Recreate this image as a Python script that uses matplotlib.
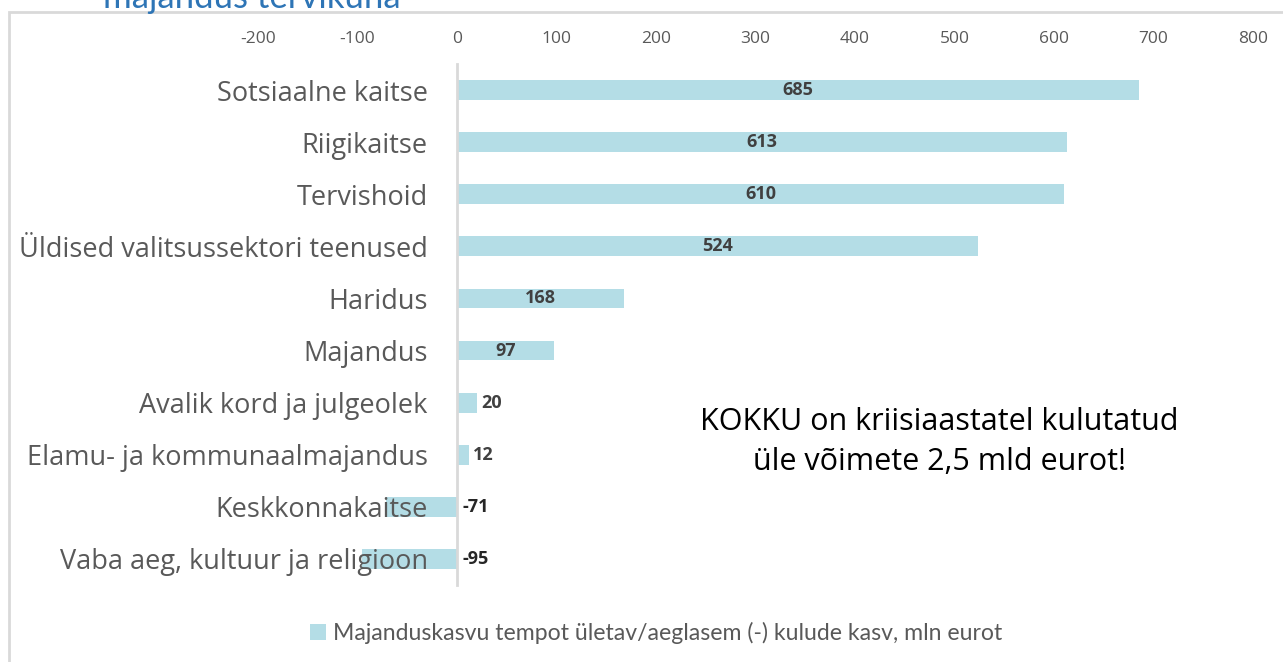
import matplotlib.pyplot as plt
from matplotlib.patches import Rectangle

plt.rcParams['axes.unicode_minus'] = False

# data
categories = ['Sotsiaalne kaitse', 'Riigikaitse', 'Tervishoid',
              'Üldised valitsussektori teenused', 'Haridus', 'Majandus',
              'Avalik kord ja julgeolek', 'Elamu- ja kommunaalmajandus',
              'Keskkonnakaitse', 'Vaba aeg, kultuur ja religioon']
values = [685, 613, 610, 524, 168, 97, 20, 12, -71, -95]
xticks = [-200, -100, 0, 100, 200, 300, 400, 500, 600, 700, 800]
legend_label = 'Majanduskasvu tempot ületav/aeglasem (-) kulude kasv, mln eurot'
note = 'KOKKU on kriisiaastatel kulutatud\nüle võimete 2,5 mld eurot!'

bar_color = '#B4DDE6'
grey = '#595959'

fig = plt.figure(figsize=(12.83, 6.62), dpi=100)
ax = fig.add_axes([258 / 1283, 77 / 662, 995 / 1283, 521 / 662])

# outer chart frame (runs past the right and bottom edge)
fig.patches.append(Rectangle((8.5 / 1283, -0.1), 1.2, (650 / 662) + 0.1,
                             transform=fig.transFigure, fill=False,
                             edgecolor='#D9D9D9', linewidth=2))
# title of the slide, cut off by the top edge as in the source
fig.text(103 / 1283, (662 - 8) / 662, 'majandus tervikuna', color='#2E75B6',
         fontsize=25, family='Lato', va='baseline')

y = list(range(len(categories)))
bars = ax.barh(y, values, height=0.38, color=bar_color, zorder=1)

for s in ['top', 'right', 'bottom']:
    ax.spines[s].set_visible(False)
ax.spines['left'].set_position(('data', 0))
ax.spines['left'].set_color('#D9D9D9')
ax.spines['left'].set_linewidth(2)

ax.set_xlim(-200, 800)
ax.set_ylim(len(categories) - 0.5, -0.5)
ax.set_xticks(xticks)
ax.xaxis.tick_top()
ax.tick_params(axis='x', length=0, pad=12, labelsize=12.5, labelcolor=grey)
for lab in ax.get_xticklabels():
    lab.set_family('Open Sans')

ax.set_yticks(y)
ax.set_yticklabels(categories, fontsize=19.5, color=grey, family='Open Sans')
ax.tick_params(axis='y', length=0, pad=21)

# data labels
for yi, v in zip(y, values):
    if v > 50:
        ax.text(v / 2, yi, str(v), ha='center', va='center', fontsize=13,
                fontweight='bold', color='#404040', family='Open Sans')
    elif v > 0:
        ax.text(v + 4, yi, str(v), ha='left', va='center', fontsize=13,
                fontweight='bold', color='#404040', family='Open Sans')
    else:
        ax.text(6, yi, str(v), ha='left', va='center', fontsize=13,
                fontweight='bold', color='#262626', family='Open Sans')

ax.text(0.685, 0.275, note, transform=ax.transAxes, ha='center', va='center',
        fontsize=22, color='black', family='Open Sans', linespacing=1.42)

leg = fig.legend([bars], [legend_label], loc='center', bbox_to_anchor=(656 / 1283, 29 / 662),
                 frameon=False, handlelength=0.7, handleheight=0.7,
                 handletextpad=0.3, prop={'family': 'Lato', 'size': 16.6})
for t in leg.get_texts():
    t.set_color(grey)

fig.savefig('out.png', dpi=100)
